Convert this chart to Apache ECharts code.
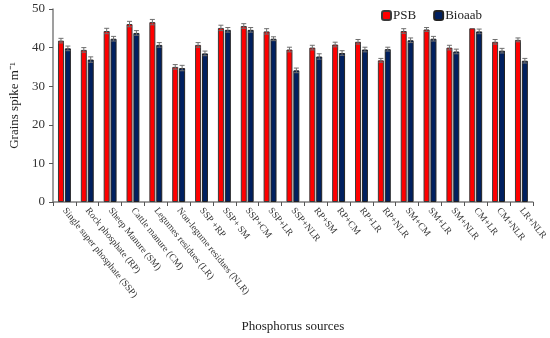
<!DOCTYPE html>
<html>
<head>
<meta charset="utf-8">
<script src="https://cdn.jsdelivr.net/npm/echarts@6/dist/echarts.min.js"></script>
<style>html,body{margin:0;padding:0;background:#fff;}#c{width:550px;height:338px;}</style>
</head>
<body>
<div id="c"></div>
<script>
var categories = ["Single super phosphate (SSP)", "Rock phosphate (RP)", "Sheep Manure (SM)", "Cattle manure (CM)", "Legumes residues (LR)", "Non-legume residues (NLR)", "SSP +RP", "SSP+ SM", "SSP+CM", "SSP+LR", "SSP+NLR", "RP+SM", "RP+CM", "RP+LR", "RP+NLR", "SM+CM", "SM+LR", "SM+NLR", "CM+LR", "CM+NLR", "LR+NLR"];
var psb = [41.8, 39.4, 44.3, 46.1, 46.6, 35.0, 40.7, 45.1, 45.6, 44.2, 39.5, 40.0, 40.8, 41.5, 36.7, 44.3, 44.7, 40.0, 45.0, 41.5, 42.0];
var bioaab = [39.8, 36.9, 42.3, 43.8, 40.7, 34.7, 38.5, 44.6, 44.6, 42.3, 34.1, 37.7, 38.6, 39.5, 39.6, 41.9, 42.3, 39.0, 44.2, 39.2, 36.6];
var psbErr = [0.6, 0.6, 0.7, 0.7, 0.7, 0.6, 0.6, 0.7, 0.6, 0.7, 0.6, 0.6, 0.6, 0.6, 0.5, 0.6, 0.5, 0.6, 0.0, 0.6, 0.5];
var bioErr = [0.6, 0.7, 0.6, 0.6, 0.6, 0.7, 0.6, 0.6, 0.6, 0.5, 0.6, 0.7, 0.6, 0.6, 0.5, 0.6, 0.6, 0.6, 0.6, 0.6, 0.6];
var yTicks = [0, 10, 20, 30, 40, 50];

var FONT = '"Liberation Serif", "Times New Roman", serif';
var BAR_W = 6, OFFSET = 3.45;

function errData(vals, errs) {
  return vals.map(function (v, i) { return [i, v, errs[i]]; });
}
function errRender(off) {
  return function (params, api) {
    var i = api.value(0), v = api.value(1), e = api.value(2);
    if (!e) return null;
    var hi = api.coord([i, v + e]);
    var lo = api.coord([i, v - e]);
    var x = hi[0] + off;
    var st = { stroke: '#6f6f6f', lineWidth: 1 };
    return {
      type: 'group',
      children: [
        { type: 'line', shape: { x1: x, y1: hi[1], x2: x, y2: lo[1] }, style: st },
        { type: 'line', shape: { x1: x - 2.5, y1: hi[1], x2: x + 2.5, y2: hi[1] }, style: st },
        { type: 'line', shape: { x1: x - 2.5, y1: lo[1], x2: x + 2.5, y2: lo[1] }, style: st }
      ]
    };
  };
}

var chart = echarts.init(document.getElementById('c'), null, { renderer: 'canvas' });
chart.setOption({
  animation: false,
  textStyle: { fontFamily: FONT },
  legend: {
    data: ['PSB', 'Bioaab'],
    left: 376, top: 4,
    itemWidth: 9, itemHeight: 9, itemGap: 17,
    textStyle: { fontFamily: FONT, fontSize: 13, color: '#222', padding: [0, 0, 0, -3] }
  },
  grid: { left: 51, right: 13, top: 9, bottom: 136, containLabel: false },
  xAxis: {
    type: 'category',
    data: categories,
    name: 'Phosphorus sources',
    nameLocation: 'middle',
    nameGap: 118,
    nameTextStyle: { fontFamily: FONT, fontSize: 13, color: '#222' },
    axisLine: { lineStyle: { color: '#7f7f7f', width: 1.5 } },
    axisTick: { show: true, alignWithLabel: false, length: 4, lineStyle: { color: '#555' } },
    axisLabel: { interval: 0, rotate: -51, margin: 7, fontFamily: FONT, fontSize: 9.5, color: '#333' }
  },
  yAxis: {
    type: 'value',
    min: 0, max: 50, interval: 10,
    name: 'Grains spike m\u207B\u00B9',
    nameLocation: 'middle',
    nameGap: 32,
    nameTextStyle: { fontFamily: FONT, fontSize: 13, color: '#222' },
    axisLine: { show: true, lineStyle: { color: '#7f7f7f', width: 1.5 } },
    axisTick: { show: true, length: 4, lineStyle: { color: '#555' } },
    axisLabel: {
      fontFamily: FONT, fontSize: 13, color: '#333', margin: 8,
      formatter: function (v) { return yTicks.indexOf(v) >= 0 ? String(v) : ''; }
    },
    splitLine: { show: false }
  },
  series: [
    {
      name: 'PSB', type: 'bar', data: psb, barWidth: BAR_W, barGap: '15%',
      itemStyle: { color: '#ff0000', borderColor: '#3a3a3a', borderWidth: 1 }
    },
    {
      name: 'Bioaab', type: 'bar', data: bioaab, barWidth: BAR_W, barGap: '15%',
      itemStyle: { color: '#002060', borderColor: '#222', borderWidth: 1 }
    },
    { type: 'custom', data: errData(psb, psbErr), renderItem: errRender(-OFFSET), z: 5, silent: true,
      encode: { x: 0, y: 1 } },
    { type: 'custom', data: errData(bioaab, bioErr), renderItem: errRender(OFFSET), z: 5, silent: true,
      encode: { x: 0, y: 1 } }
  ]
});
</script>
</body>
</html>
